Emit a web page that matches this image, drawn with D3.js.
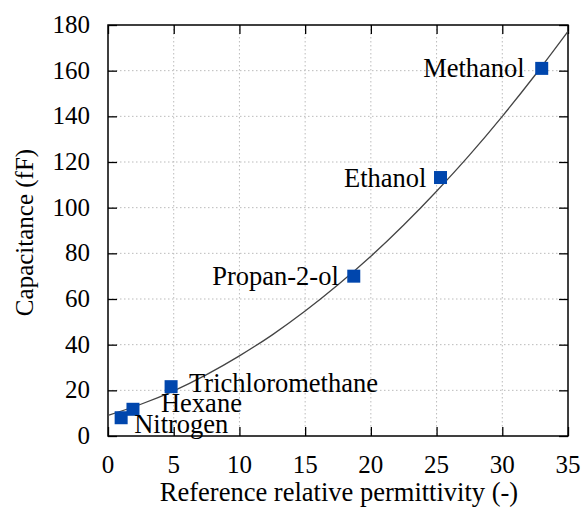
<!DOCTYPE html>
<html>
<head>
  <meta charset="UTF-8">
  <title>Capacitance vs permittivity</title>
  <script src="https://d3js.org/d3.v7.min.js"></script>
  <style>
    body { margin: 0; background: #fff; }
    svg { display: block; }
    text { font-family: 'Liberation Serif', 'DejaVu Serif', 'Times New Roman', Times, serif; fill: #000; }
    .grid line { stroke: #bbb; stroke-width: 1; stroke-dasharray: 1.5,2.5; }
  </style>
</head>
<body>
  <svg width="587" height="508"></svg>

  <script>
    // measured liquids
    const names = ["Nitrogen", "Hexane", "Trichloromethane", "Propan-2-ol", "Ethanol", "Methanol"];
    const permittivity = [1.0, 1.9, 4.8, 18.7, 25.3, 33.0];
    const capacitance = [8.0, 11.7, 21.6, 70.0, 113.2, 161.0];

    // fitted curve
    const fitX = [0, 2.5, 5, 7.5, 10, 12.5, 15, 17.5, 20, 22.5, 25, 27.5, 30, 32.5, 35];
    const fitY = [9, 13.9, 19.8, 26.9, 35.1, 44.3, 54.7, 66.2, 78.7, 92.4, 107.2, 123.0, 140.0, 158.1, 177.2];

    const xTicks = [0, 5, 10, 15, 20, 25, 30, 35];
    const yTicks = [0, 20, 40, 60, 80, 100, 120, 140, 160, 180];

    // label placement (anchor, dx, dy) per point
    const labelPos = [
      ["start", 13, 15],
      ["start", 28, 3],
      ["start", 18, 5],
      ["end", -15, 9],
      ["end", -14, 9],
      ["end", -17, 9]
    ];

    const serif = "'Liberation Serif', 'DejaVu Serif', serif";
    const fs = 25;
    const fsLab = 26.5;

    const svg = d3.select("svg");
    const margin = { top: 25, right: 19, bottom: 72, left: 108 };
    const w = +svg.attr("width") - margin.left - margin.right;
    const h = +svg.attr("height") - margin.top - margin.bottom;

    const g = svg.append("g").attr("transform", `translate(${margin.left},${margin.top})`);

    const x = d3.scaleLinear().domain([0, 35]).range([0, w]);
    const y = d3.scaleLinear().domain([0, 180]).range([h, 0]);

    // grid
    const grid = g.append("g").attr("class", "grid");
    grid.selectAll(".gx").data(xTicks.slice(1, -1)).enter().append("line")
      .attr("x1", d => x(d)).attr("x2", d => x(d)).attr("y1", 0).attr("y2", h);
    grid.selectAll(".gy").data(yTicks.slice(1, -1)).enter().append("line")
      .attr("y1", d => y(d)).attr("y2", d => y(d)).attr("x1", 0).attr("x2", w);

    // axes with inward ticks on all sides
    const tk = 9;
    g.append("g").attr("transform", `translate(0,${h})`)
      .call(d3.axisBottom(x).tickValues(xTicks).tickSize(-tk).tickFormat(""));
    g.append("g")
      .call(d3.axisTop(x).tickValues(xTicks).tickSize(-tk).tickFormat(""));
    g.append("g")
      .call(d3.axisLeft(y).tickValues(yTicks).tickSize(-tk).tickFormat(""));
    g.append("g").attr("transform", `translate(${w},0)`)
      .call(d3.axisRight(y).tickValues(yTicks).tickSize(-tk).tickFormat(""));
    g.selectAll(".domain").remove();
    g.selectAll(".tick line").attr("stroke", "#000").attr("stroke-width", 1.3);

    g.append("rect")
      .attr("width", w).attr("height", h)
      .attr("fill", "none").attr("stroke", "#000").attr("stroke-width", 1.5);

    // tick labels
    g.selectAll(".xl").data(xTicks).enter().append("text")
      .attr("font-family", serif).attr("font-size", fs)
      .attr("x", d => x(d)).attr("y", h + 37)
      .attr("text-anchor", "middle")
      .text(d => d);
    g.selectAll(".yl").data(yTicks).enter().append("text")
      .attr("font-family", serif).attr("font-size", fs)
      .attr("x", -18).attr("y", d => y(d) + 8)
      .attr("text-anchor", "end")
      .text(d => d);

    // axis titles
    svg.append("text")
      .attr("font-family", serif).attr("font-size", fsLab)
      .attr("x", margin.left + w / 2 + 1).attr("y", 501)
      .attr("text-anchor", "middle")
      .text("Reference relative permittivity (-)");
    svg.append("text")
      .attr("font-family", serif).attr("font-size", fs)
      .attr("transform", `translate(33,${margin.top + h / 2 + 2}) rotate(-90)`)
      .attr("text-anchor", "middle")
      .text("Capacitance (fF)");

    // fit curve
    const line = d3.line()
      .x(d => x(d[0])).y(d => y(d[1]))
      .curve(d3.curveMonotoneX);
    g.append("path")
      .datum(fitX.map((v, i) => [v, fitY[i]]))
      .attr("d", line)
      .attr("fill", "none")
      .attr("stroke", "#444")
      .attr("stroke-width", 1.3);

    // points
    const pts = names.map((n, i) => ({ name: n, px: permittivity[i], cy: capacitance[i], lp: labelPos[i] }));
    const s = 13;
    g.selectAll(".pt").data(pts).enter().append("rect")
      .attr("x", d => x(d.px) - s / 2)
      .attr("y", d => y(d.cy) - s / 2)
      .attr("width", s).attr("height", s)
      .attr("fill", "#0046ad");

    g.selectAll(".pt-label").data(pts).enter().append("text")
      .attr("font-family", serif).attr("font-size", fsLab)
      .attr("x", d => x(d.px) + d.lp[1])
      .attr("y", d => y(d.cy) + d.lp[2])
      .attr("text-anchor", d => d.lp[0])
      .text(d => d.name);
  </script>
</body>
</html>
